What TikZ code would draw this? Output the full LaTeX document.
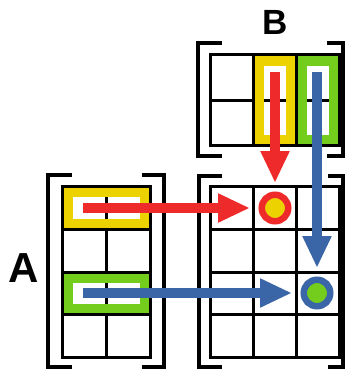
\documentclass[tikz,border=0pt]{standalone}
\usepackage{fontspec}
\setmainfont{Liberation Sans}
\usetikzlibrary{arrows.meta}
\definecolor{hlyellow}{HTML}{EBD200}
\definecolor{hlgreen}{HTML}{74CC1C}
\definecolor{arrred}{HTML}{EE2A2A}
\definecolor{arrblue}{HTML}{3A66A8}
\begin{document}
\begin{tikzpicture}[x=1pt,y=-1pt,
  gridline/.style={line width=3pt},
  bracket/.style={line width=4pt},
  hl/.style={line width=9pt},
  flow/.style={line width=10pt, -{Triangle[length=32pt,width=27pt]}, shorten >=11.75pt},
  ring/.style={circle, draw=#1, line width=6.5pt, minimum size=26.5pt, inner sep=0pt, outer sep=0pt},
  letter/.style={font=\bfseries, inner sep=0pt}]
\useasboundingbox (0,0) rectangle (345,369);

% matrix A (4 x 2)
\draw[gridline] (62,186) rectangle (150,357);
\draw[gridline] (106,186) -- (106,357);
\foreach \y in {229,272,314} \draw[gridline] (62,\y) -- (150,\y);
\draw[bracket] (72,175) -- (48,175) -- (48,366.5) -- (72,366.5);
\draw[bracket] (142,175) -- (164,175) -- (164,366.5) -- (142,366.5);

% matrix B (2 x 3)
\draw[gridline] (210,55) rectangle (339,145);
\foreach \x in {253,296} \draw[gridline] (\x,55) -- (\x,145);
\draw[gridline] (210,100) -- (339,100);
\draw[bracket] (222,43) -- (198,43) -- (198,156) -- (222,156);
\draw[bracket] (327,43) -- (343,43) -- (343,156) -- (327,156);

% product matrix C (4 x 3)
\draw[gridline] (210,186) rectangle (339,357);
\foreach \x in {253,296} \draw[gridline] (\x,186) -- (\x,357);
\foreach \y in {229,272,314} \draw[gridline] (210,\y) -- (339,\y);
\draw[bracket] (222,176) -- (199,176) -- (199,366.5) -- (222,366.5);
\draw[bracket] (328,176) -- (343,176) -- (343,366.5) -- (328,366.5);

% highlighted rows of A and columns of B
\draw[hl, hlyellow] (68,192) rectangle (144,223);
\draw[hl, hlgreen] (68,278) rectangle (144,308);
\draw[hl, hlyellow] (259,61) rectangle (290,139);
\draw[hl, hlgreen] (302,61) rectangle (333,139);

% labels
\node[letter, font=\bfseries\fontsize{42}{42}\selectfont] (la) at (24,268) {A};
\node[letter, font=\bfseries\fontsize{35}{35}\selectfont] (lb) at (275,22) {B};

% result entries
\node[ring=arrred, fill=hlyellow] (pr) at (275,208) {};
\node[ring=arrblue, fill=hlgreen] (pb) at (317,293) {};

% start points inside the highlighted boxes
\coordinate (ra) at (83,208);
\coordinate (ba) at (83,293);
\coordinate (rb) at (275,72);
\coordinate (bb) at (317,72);

\draw[flow, arrred] (ra) -- (pr);
\draw[flow, arrred] (rb) -- (pr);
\draw[flow, arrblue] (ba) -- (pb);
\draw[flow, arrblue] (bb) -- (pb);
\end{tikzpicture}
\end{document}
